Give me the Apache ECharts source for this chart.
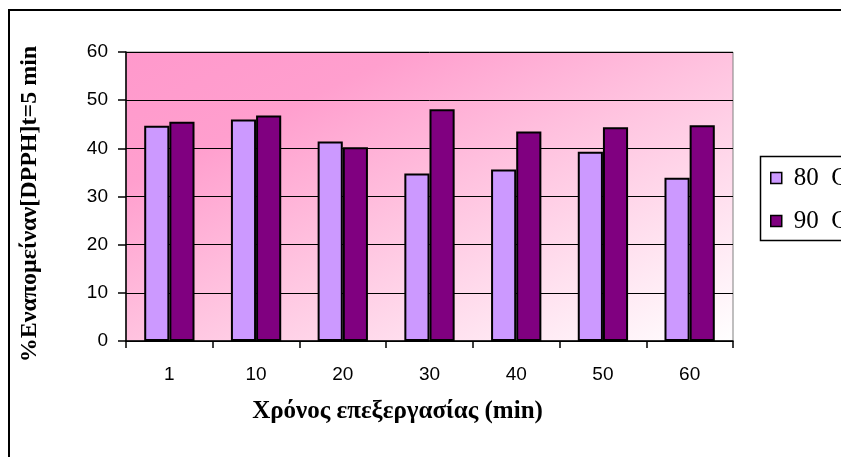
<!DOCTYPE html>
<html>
<head>
<meta charset="utf-8">
<script src="https://cdn.jsdelivr.net/npm/echarts@6/dist/echarts.min.js"></script>
<style>html,body{margin:0;padding:0;background:#fff;}#c{width:841px;height:457px;}</style>
</head>
<body>
<div id="c"></div>
<script>
var categories = ['1', '10', '20', '30', '40', '50', '60'];
var seriesNames = ['80  C', '90  C'];
var values80 = [44.7, 46.0, 41.4, 34.8, 35.6, 39.3, 33.9];
var values90 = [45.5, 46.8, 40.2, 48.1, 43.5, 44.4, 44.8];
var yTicks = [0, 10, 20, 30, 40, 50, 60];

var chart = echarts.init(document.getElementById('c'), null, {renderer: 'canvas'});
var option = {
  animation: false,
  backgroundColor: '#ffffff',
  graphic: [
    {type: 'rect', z: 0, shape: {x: 9, y: 10, width: 900, height: 500}, style: {fill: 'none', stroke: '#000', lineWidth: 2}},
    {type: 'rect', z: 0, shape: {x: 760.5, y: 156.5, width: 200, height: 84}, style: {fill: '#fff', stroke: '#000', lineWidth: 1.5}}
  ],
  grid: {
    left: 126, top: 52, right: 841 - 733, bottom: 457 - 341,
    show: true,
    borderColor: '#808080', borderWidth: 1,
    backgroundColor: new echarts.graphic.LinearGradient(0, 0, 0.3696, 1.630, [
      {offset: 0, color: '#FF99CC'},
      {offset: 0.23, color: '#FF9FCE'},
      {offset: 0.5, color: '#FFC2DF'},
      {offset: 1, color: '#FFFFFF'}
    ])
  },
  legend: {
    orient: 'vertical', left: 770, top: 165, itemGap: 17, padding: 0,
    itemWidth: 11, itemHeight: 11,
    icon: 'rect',
    textStyle: {fontFamily: '"Liberation Serif", "Times New Roman", serif', fontWeight: 'normal', fontSize: 25, lineHeight: 26, color: '#000', padding: [0, 0, 0, 7]},
    data: [
      {name: seriesNames[0], itemStyle: {borderColor: '#000', borderWidth: 1.5}},
      {name: seriesNames[1], itemStyle: {borderColor: '#000', borderWidth: 1.5}}
    ]
  },
  xAxis: {
    type: 'category', data: categories,
    name: 'Χρόνος επεξεργασίας (min)', nameLocation: 'middle', nameGap: 58,
    nameTextStyle: {fontFamily: 'Liberation Serif', fontWeight: 'bold', fontSize: 25, color: '#000', padding: [0, 64, 0, 0]},
    axisLine: {lineStyle: {color: '#000', width: 1.5}},
    axisTick: {show: true, length: 7, lineStyle: {color: '#000', width: 1.5}},
    axisLabel: {fontFamily: 'Liberation Sans', fontSize: 19, color: '#000', margin: 24},
    splitLine: {show: false}
  },
  yAxis: {
    type: 'value', min: 0, max: 60, interval: 10,
    name: '%Εναπομείναν[DPPH]t=5 min', nameLocation: 'middle', nameGap: 84,
    nameTextStyle: {fontFamily: 'Liberation Serif', fontWeight: 'bold', fontSize: 24, color: '#000', align: 'center', padding: [0, 15, 0, 0]},
    axisLine: {show: true, lineStyle: {color: '#000', width: 1.5}},
    axisTick: {show: true, length: 8, lineStyle: {color: '#000', width: 1.5}},
    axisLabel: {fontFamily: 'Liberation Sans', fontSize: 19, color: '#000', margin: 18,
      formatter: function (v) { return yTicks.indexOf(v) >= 0 ? String(v) : ''; }},
    splitLine: {show: true, lineStyle: {color: '#000', width: 1}}
  },
  series: [
    {name: seriesNames[0], type: 'bar', data: values80, barGap: '0%', barCategoryGap: '42%',
      itemStyle: {color: '#CC99FF', borderColor: '#000', borderWidth: 2}},
    {name: seriesNames[1], type: 'bar', data: values90, barGap: '0%', barCategoryGap: '42%',
      itemStyle: {color: '#800080', borderColor: '#000', borderWidth: 2}}
  ]
};
chart.setOption(option);
</script>
</body>
</html>
